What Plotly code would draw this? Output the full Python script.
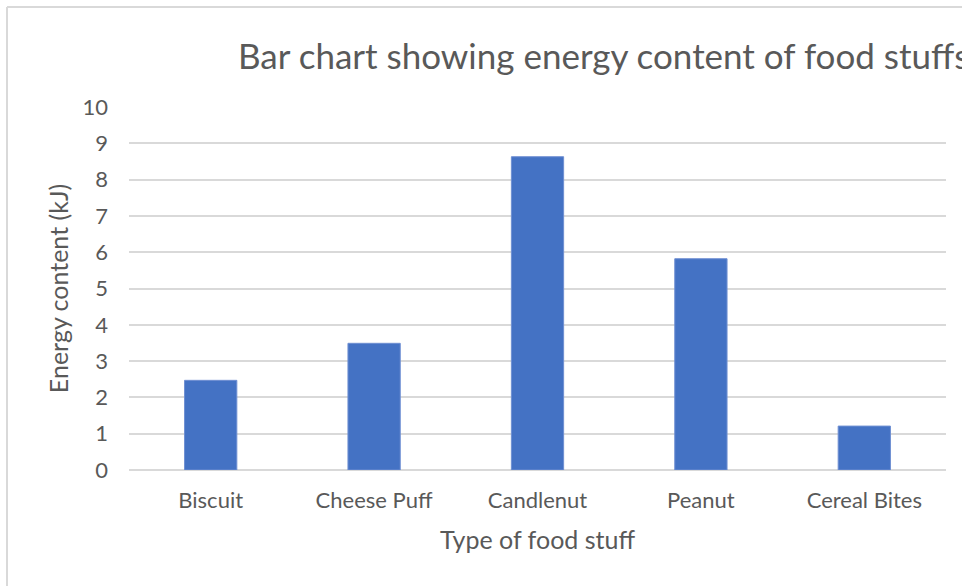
import plotly.graph_objects as go

categories = ["Biscuit", "Cheese Puff", "Candlenut", "Peanut", "Cereal Bites"]
energy_kj = [2.47, 3.49, 8.63, 5.82, 1.21]
y_ticks = list(range(0, 11))

TEXT = "#595959"
GRID = "#D9D9D9"
FONT = "Lato"

fig = go.Figure()
fig.add_trace(go.Bar(
    x=categories, y=energy_kj,
    marker=dict(color="#4472C4", line=dict(color="#6F8FD2", width=1)),
    width=0.32,
))

W, H = 962, 586
ml, mr, mt, mb = 129, 16, 107, 116
pw, ph = W - ml - mr, H - mt - mb

def px(xp):
    return (xp - ml) / pw

def py(yp):
    return (H - mb - yp) / ph

fig.update_layout(
    width=W, height=H,
    margin=dict(l=ml, r=mr, t=mt, b=mb),
    paper_bgcolor="white", plot_bgcolor="white",
    font=dict(family=FONT, color=TEXT, size=22),
    showlegend=False,
    title=dict(
        text="Bar chart showing energy content of food stuffs",
        font=dict(family=FONT, size=35, color=TEXT),
        xref="paper", x=px(238), xanchor="left",
        yref="container", y=1 - 57 / H, yanchor="middle",
    ),
    xaxis=dict(
        title=dict(text="Type of food stuff", font=dict(size=25, color=TEXT), standoff=19),
        showgrid=False, showline=False, ticks="",
        tickfont=dict(size=22, color=TEXT),
        ticklabelstandoff=15,
    ),
    yaxis=dict(
        title=dict(text="Energy content (kJ)", font=dict(size=25, color=TEXT), standoff=6),
        range=[0, 10], tickvals=y_ticks,
        showgrid=True, gridcolor=GRID, gridwidth=1.6,
        zeroline=True, zerolinecolor=GRID, zerolinewidth=1.6,
        showline=False, ticks="",
        tickfont=dict(size=22, color=TEXT),
        ticklabelstandoff=20,
    ),
    shapes=[
        dict(type="line", xref="paper", yref="paper",
             x0=px(7), x1=px(W + 5), y0=py(7), y1=py(7),
             line=dict(color=GRID, width=2)),
        dict(type="line", xref="paper", yref="paper",
             x0=px(7), x1=px(7), y0=py(7), y1=py(H + 5),
             line=dict(color=GRID, width=2)),
    ],
)

fig.write_html("out.html")
